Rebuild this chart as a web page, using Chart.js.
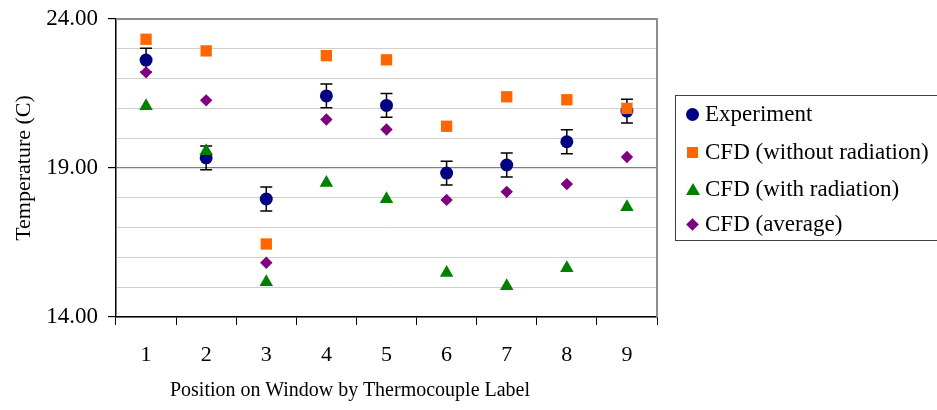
<!DOCTYPE html>
<html>
<head>
<meta charset="utf-8">
<script src="https://cdn.jsdelivr.net/npm/chart.js@4/dist/chart.umd.min.js"></script>
<style>
  html, body { margin: 0; padding: 0; background: #fff; }
  #wrap { position: relative; width: 937px; height: 410px; font-family: "Liberation Serif", "Times New Roman", serif; }
  #chart { position: absolute; left: 0; top: 0; }
  #xtitle { position: absolute; left: 150px; width: 400px; top: 378px; text-align: center; font-size: 20px; color: #000; }
  #legend { position: absolute; left: 675px; top: 95px; width: 270px; height: 146px; border: 1px solid #404040; box-sizing: border-box; }
  .item { position: absolute; left: 0; height: 30px; line-height: 30px; font-size: 23px; color: #000; white-space: nowrap; }
  .item .txt { position: absolute; left: 29px; top: 0; }
  .mk { position: absolute; }
</style>
</head>
<body>
<div id="wrap">
  <canvas id="chart" width="937" height="410"></canvas>
  <div id="xtitle">Position on Window by Thermocouple Label</div>
  <div id="legend"></div>
</div>
<script>
// 열전대 위치 (1~9)
const positions = ['1', '2', '3', '4', '5', '6', '7', '8', '9'];

// 측정값 / 해석값 (C)
const experiment = [22.62, 19.34, 17.96, 21.42, 21.10, 18.83, 19.10, 19.88, 20.91];
const experimentErr = [0.4, 0.4, 0.4, 0.4, 0.4, 0.4, 0.4, 0.4, 0.4];
const cfdNoRad = [23.32, 22.93, 16.45, 22.77, 22.63, 20.40, 21.39, 21.29, 21.00];
const cfdRad = [21.08, 19.57, 15.17, 18.50, 17.96, 15.48, 15.04, 15.64, 17.69];
const cfdAvg = [22.21, 21.27, 15.82, 20.63, 20.29, 17.93, 18.20, 18.46, 19.37];

const yTicks = { min: 14, max: 24, step: 1, labelEvery: 5 };

const serif = '"Liberation Serif", "Times New Roman", serif';

const series = [
    { label: 'Experiment', data: experiment, color: '#000080', style: 'circle', radius: 6.5, order: 4 },
    { label: 'CFD (without radiation)', data: cfdNoRad, color: '#FF6600', style: 'rect', radius: 8, order: 3 },
    { label: 'CFD (with radiation)', data: cfdRad, color: '#008000', style: 'triangle', radius: 7.8, order: 2 },
    { label: 'CFD (average)', data: cfdAvg, color: '#800080', style: 'rectRot', radius: 6.2, order: 1 }
];

const isMajor = v => (v - yTicks.min) % yTicks.labelEvery === 0;

// 오차막대 (Experiment)
const errorBars = {
    id: 'errorBars',
    beforeDatasetsDraw(chart) {
        const ctx = chart.ctx;
        const meta = chart.getDatasetMeta(0);
        const y = chart.scales.y;
        ctx.save();
        ctx.strokeStyle = '#000';
        ctx.lineWidth = 1.5;
        meta.data.forEach((pt, i) => {
            const top = y.getPixelForValue(experiment[i] + experimentErr[i]);
            const bot = y.getPixelForValue(experiment[i] - experimentErr[i]);
            ctx.beginPath();
            ctx.moveTo(pt.x, top); ctx.lineTo(pt.x, bot);
            ctx.moveTo(pt.x - 6, top); ctx.lineTo(pt.x + 6, top);
            ctx.moveTo(pt.x - 6, bot); ctx.lineTo(pt.x + 6, bot);
            ctx.stroke();
        });
        ctx.restore();
    }
};

// 위/오른쪽 테두리
const frame = {
    id: 'frame',
    beforeDatasetsDraw(chart) {
        const a = chart.chartArea;
        const ctx = chart.ctx;
        ctx.save();
        ctx.strokeStyle = '#8c8c8c';
        ctx.lineWidth = 2;
        ctx.beginPath();
        ctx.moveTo(a.left, a.top);
        ctx.lineTo(a.right, a.top);
        ctx.lineTo(a.right, a.bottom);
        ctx.stroke();
        ctx.restore();
    }
};

const chart = new Chart(document.getElementById('chart'), {
    type: 'line',
    data: {
        labels: positions,
        datasets: series.map(s => ({
            label: s.label,
            data: s.data,
            showLine: false,
            pointStyle: s.style,
            pointRadius: s.radius,
            pointHoverRadius: s.radius,
            pointBackgroundColor: s.color,
            pointBorderColor: s.color,
            pointBorderWidth: 0,
            order: s.order
        }))
    },
    options: {
        responsive: false,
        animation: false,
        events: [],
        layout: { padding: { left: 0, top: 19, right: 280, bottom: 0 } },
        plugins: {
            legend: { display: false },
            tooltip: { enabled: false }
        },
        scales: {
            x: {
                type: 'category',
                offset: true,
                grid: { offset: true, drawOnChartArea: false, color: '#000', tickLength: 8, lineWidth: 1 },
                border: { color: '#000', width: 1.5 },
                ticks: { color: '#000', font: { family: serif, size: 22 }, padding: 17, maxRotation: 0 },
                afterFit(scale) { scale.height = 93; }
            },
            y: {
                min: yTicks.min,
                max: yTicks.max,
                grid: {
                    color: ctx => {
                        const v = ctx.tick ? ctx.tick.value : 0;
                        if (v === yTicks.max) return '#8c8c8c';
                        return isMajor(v) ? '#808080' : '#d0d0d0';
                    },
                    lineWidth: ctx => (ctx.tick && isMajor(ctx.tick.value)) ? 1.2 : 1,
                    tickColor: ctx => (ctx.tick && isMajor(ctx.tick.value)) ? '#000' : 'rgba(0,0,0,0)',
                    tickLength: 8
                },
                border: { color: '#000', width: 1.5 },
                ticks: {
                    stepSize: yTicks.step,
                    autoSkip: false,
                    color: '#000',
                    padding: 10,
                    font: { family: serif, size: 23 },
                    callback: v => isMajor(v) ? v.toFixed(2) : ''
                },
                title: {
                    display: true,
                    text: 'Temperature (C)',
                    color: '#000',
                    font: { family: serif, size: 22 },
                    padding: { top: 11, bottom: 0 }
                },
                afterFit(scale) {
                    scale.width = 116;
                    scale.paddingTop = 0;
                    scale.paddingBottom = 0;
                }
            }
        }
    },
    plugins: [errorBars, frame]
});

// 범례
const legendEl = document.getElementById('legend');
const rowTops = [3, 41, 78, 113];
series.forEach((s, i) => {
    const item = document.createElement('div');
    item.className = 'item';
    item.style.top = rowTops[i] + 'px';
    const mk = document.createElement('span');
    mk.className = 'mk';
    if (s.style === 'circle') {
        Object.assign(mk.style, { left: '10px', top: '9px', width: '13px', height: '13px', borderRadius: '50%', background: s.color });
    } else if (s.style === 'rect') {
        Object.assign(mk.style, { left: '11px', top: '10px', width: '11px', height: '11px', background: s.color });
    } else if (s.style === 'triangle') {
        Object.assign(mk.style, { left: '10px', top: '9px', width: '0', height: '0',
            borderLeft: '7px solid transparent', borderRight: '7px solid transparent', borderBottom: '12px solid ' + s.color });
    } else {
        Object.assign(mk.style, { left: '12px', top: '11px', width: '9px', height: '9px', background: s.color, transform: 'rotate(45deg)' });
    }
    const txt = document.createElement('span');
    txt.className = 'txt';
    txt.textContent = s.label;
    item.appendChild(mk);
    item.appendChild(txt);
    legendEl.appendChild(item);
});
</script>
</body>
</html>
